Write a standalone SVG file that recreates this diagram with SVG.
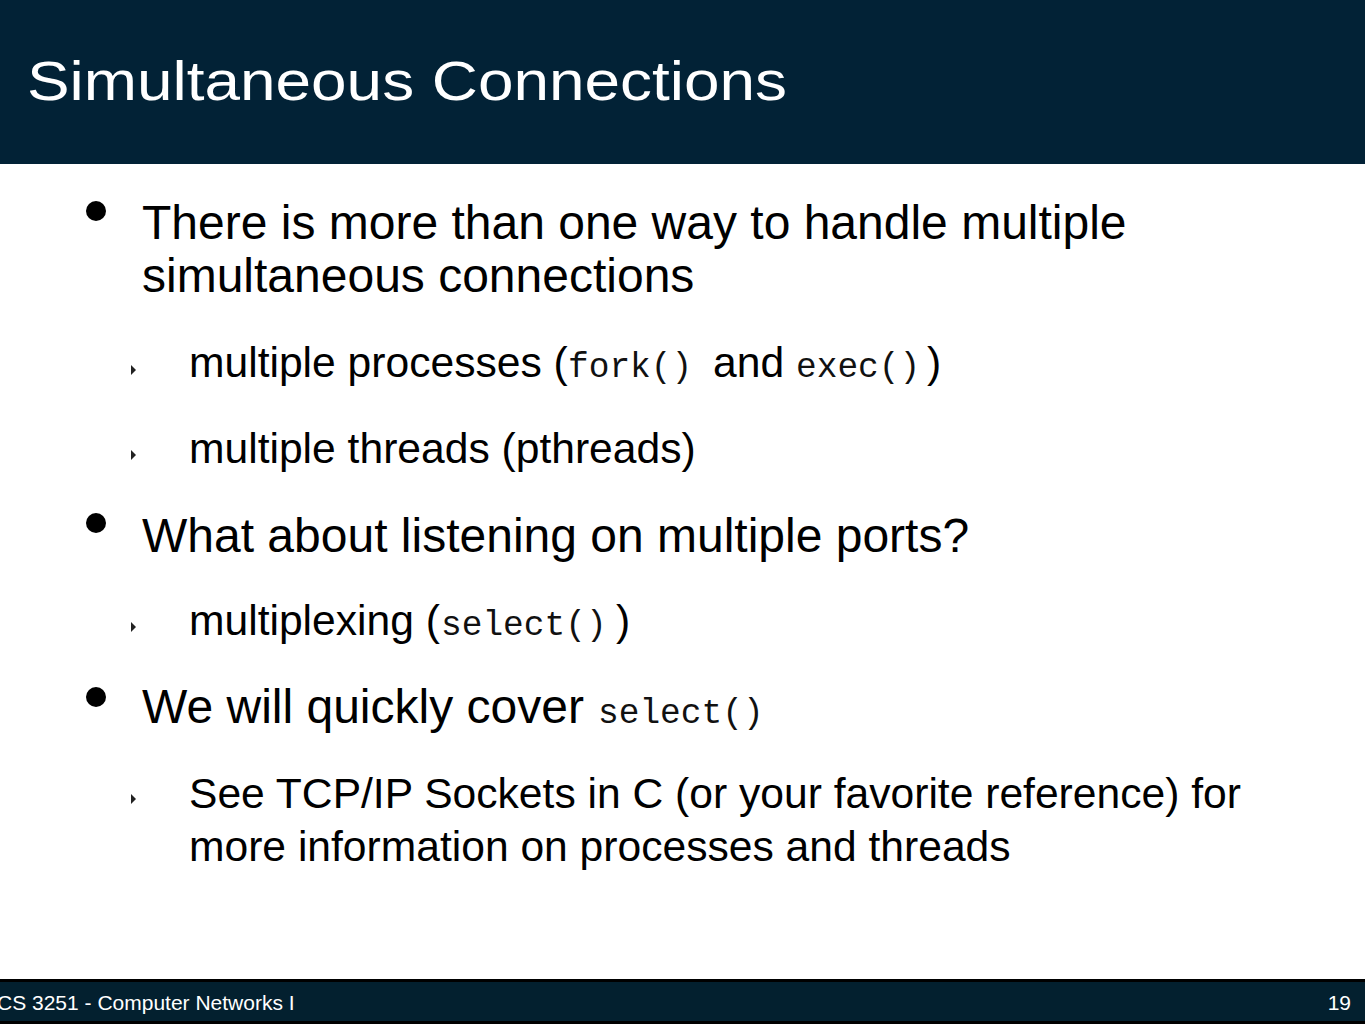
<svg xmlns="http://www.w3.org/2000/svg" width="1365" height="1024" viewBox="0 0 1365 1024">
<style>
.t{font-family:"Liberation Sans",Arial,sans-serif;fill:#000}
.b1{font-size:48px}
.b2{font-size:42.6px}
.m{font-family:"Liberation Mono","Courier New",monospace;font-size:34.5px;fill:#111}
.tri{fill:#222}
.foot{font-family:"Liberation Sans",Arial,sans-serif;font-size:21px;fill:#fff}
</style>
<rect x="0" y="0" width="1365" height="1024" fill="#fff"/>
<g id="title">
<rect x="0" y="0" width="1365" height="164" fill="#022236"/>
<text x="27" y="100" font-family="'Liberation Sans',Arial,sans-serif" font-size="56" fill="#fff" textLength="760" lengthAdjust="spacingAndGlyphs">Simultaneous Connections</text>
</g>
<g id="bullet1">
<circle cx="96" cy="211" r="10" fill="#000"/>
<text class="t b1" x="142" y="239">There is more than one way to handle multiple</text>
<text class="t b1" x="142" y="292">simultaneous connections</text>
</g>
<g id="sub1">
<polygon class="tri" points="131,365 136,370 131,375"/>
<text class="t b2" x="189" y="377">multiple processes (</text>
<text class="m" x="568" y="377">fork()</text>
<text class="t b2" x="713" y="377">and</text>
<text class="m" x="796" y="377">exec()</text>
<text class="t b2" x="927" y="377">)</text>
</g>
<g id="sub2">
<polygon class="tri" points="131,450 136,455 131,460"/>
<text class="t b2" x="189" y="463">multiple threads (pthreads)</text>
</g>
<g id="bullet2">
<circle cx="96" cy="523" r="10" fill="#000"/>
<text class="t b1" x="142" y="552">What about listening on multiple ports?</text>
</g>
<g id="sub3">
<polygon class="tri" points="131,622 136,627 131,632"/>
<text class="t b2" x="189" y="635">multiplexing (</text>
<text class="m" x="441" y="635">select()</text>
<text class="t b2" x="616" y="635">)</text>
</g>
<g id="bullet3">
<circle cx="96" cy="697" r="10" fill="#000"/>
<text class="t b1" x="142" y="723">We will quickly cover</text>
<text class="m" x="598" y="723">select()</text>
</g>
<g id="sub4">
<polygon class="tri" points="131,794 136,799 131,804"/>
<text class="t b2" x="189" y="808">See TCP/IP Sockets in C (or your favorite reference) for</text>
<text class="t b2" x="189" y="861">more information on processes and threads</text>
</g>
<g id="footer">
<rect x="0" y="979" width="1365" height="45" fill="#000"/>
<rect x="0" y="982" width="1365" height="39" fill="#03202f"/>
<text class="foot" x="-3" y="1010">CS 3251 - Computer Networks I</text>
<text class="foot" x="1351" y="1010" text-anchor="end">19</text>
</g>
</svg>
